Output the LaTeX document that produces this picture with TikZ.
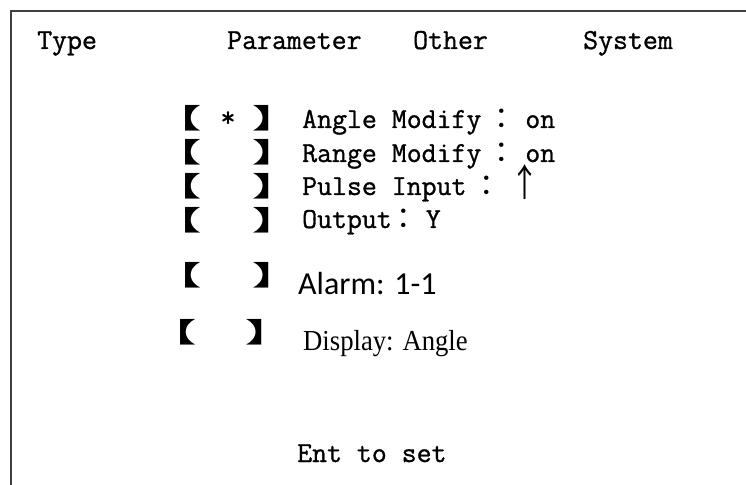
\documentclass[tikz,border=0pt]{standalone}
\usepackage{fontspec}
\usepackage{graphicx}
\setmonofont{Latin Modern Mono}[FakeBold=1]
\newfontfamily\cjk{Noto Sans CJK SC}
\newfontfamily\calib{Carlito}
\newfontfamily\tnr{Liberation Serif}
\tikzset{
  mono/.style={font=\fontsize{29bp}{29bp}\selectfont\ttfamily, inner sep=0pt, anchor=base west},
  brk/.style={font=\fontsize{27bp}{27bp}\selectfont\cjk\bfseries, inner sep=0pt, anchor=center},
  frame/.style={line width=2.4bp, draw=black!75}
}
\newcommand{\LB}{\scalebox{1.75}[1]{【}}
\newcommand{\RB}{\scalebox{1.75}[1]{】}}
\newcommand{\fc}{\kern13bp{\cjk：}\kern-13bp}
\newcommand{\fcs}{\kern5bp{\cjk：}}
\begin{document}
\begin{tikzpicture}[x=1bp,y=-1bp]
\useasboundingbox (0,0) rectangle (746,485);
\draw[frame] (11,485) -- (11,11) -- (746,11);
% headers
\node[mono] (type) at (37,49) {Type};
\node[mono] (param) at (227,49) {Parameter};
\node[mono] (other) at (413,49) {Other};
\node[mono] (system) at (583,49) {System};
% brackets
\node[brk] (l1) at (178,118) {\LB};
\node[brk] (r1) at (276,118) {\RB};
\node[brk] (l2) at (178,152) {\LB};
\node[brk] (r2) at (276,152) {\RB};
\node[brk] (l3) at (178,186) {\LB};
\node[brk] (r3) at (276,186) {\RB};
\node[brk] (l4) at (178,220) {\LB};
\node[brk] (r4) at (276,220) {\RB};
\node[brk] (l5) at (178,275) {\LB};
\node[brk] (r5) at (276,275) {\RB};
\node[brk] (l6) at (173,332) {\LB};
\node[brk] (r6) at (269,332) {\RB};
\node[font=\fontsize{29bp}{29bp}\selectfont\ttfamily, inner sep=0pt] (star) at (228,119) {*};
% rows
\node[mono] (t1) at (302,128) {Angle Modify\fc\ on};
\node[mono] (t2) at (302,162) {Range Modify\fc\ on};
\node[mono] (t3) at (302,195) {Pulse Input\fc\ {\cjk\raisebox{-2bp}{\scalebox{1}[1.3]{↑}}}};
\node[mono] (t4) at (302,228) {Output\fcs Y};
\node[font=\fontsize{32bp}{32bp}\selectfont\calib, inner sep=0pt, anchor=base west] (t5) at (298,295) {Alarm: 1-1};
\node[font=\fontsize{29bp}{29bp}\selectfont\tnr, inner sep=0pt, anchor=base west] (t6) at (303,350) {\scalebox{0.92}[1]{Display: Angle}};
\node[mono] (ent) at (297,462) {Ent to set};
\end{tikzpicture}
\end{document}
